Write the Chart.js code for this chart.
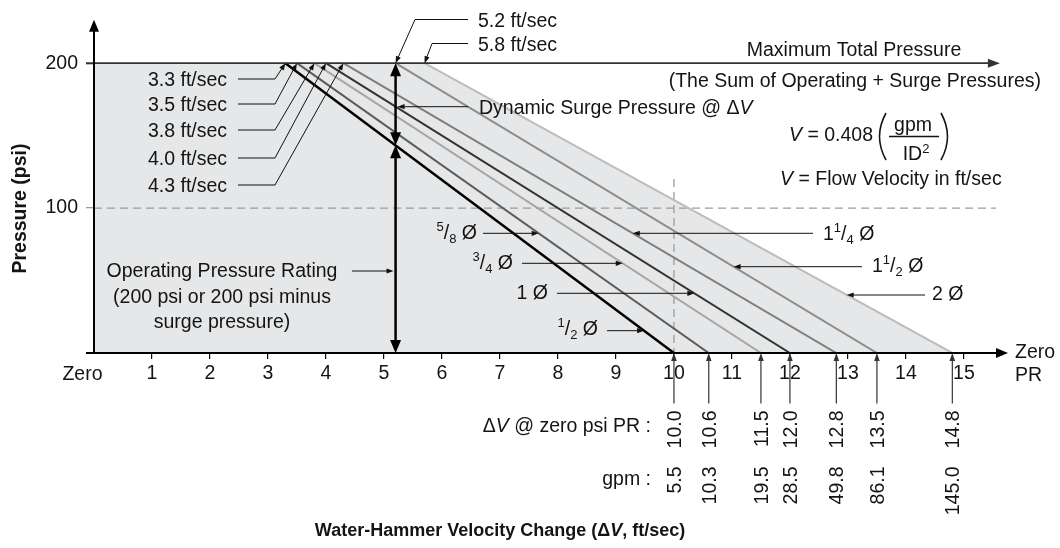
<!DOCTYPE html>
<html><head><meta charset="utf-8">
<script src="https://cdn.jsdelivr.net/npm/chart.js@4.4.1/dist/chart.umd.min.js"></script>
<style>html,body{margin:0;padding:0;background:#fff;}#wrap{width:1060px;height:548px;}</style>
</head><body><div id="wrap"><canvas id="c" width="1060" height="548"></canvas></div>
<script>
// ---------- data ----------
const pipeSizes = ['1/2', '5/8', '3/4', '1', '1 1/4', '1 1/2', '2'];
const startVelocity = [3.3, 3.5, 3.8, 4.0, 4.3, 5.2, 5.7];      // ft/sec where each line meets 200 psi
const startLabels = ['3.3 ft/sec', '3.5 ft/sec', '3.8 ft/sec', '4.0 ft/sec', '4.3 ft/sec', '5.2 ft/sec', '5.8 ft/sec'];
const zeroPsiVelocity = [10.0, 10.6, 11.5, 12.0, 12.8, 13.5, 14.8]; // ft/sec at zero psi PR
const zeroPsiLabels = ['10.0', '10.6', '11.5', '12.0', '12.8', '13.5', '14.8'];
const gpmLabels = ['5.5', '10.3', '19.5', '28.5', '49.8', '86.1', '145.0'];
const maxPressure = 200;
const xTickValues = [1, 2, 3, 4, 5, 6, 7, 8, 9, 10, 11, 12, 13, 14, 15];
const yTickValues = [100, 200];

// ---------- styles ----------
const lineColors = ['#000000', '#5c5c5c', '#a6a6a6', '#333333', '#7d7d7d', '#8c8c8c', '#bdbdbd'];
const lineWidths = [2.5, 2, 2, 2, 2, 2, 2];
const FONT = "'Liberation Sans', Arial, Helvetica, sans-serif";
const F = 19.5;
const TEXT = '#141414';

function fontStr(s){ return (s.style||'normal') + ' ' + (s.weight||'normal') + ' ' + (s.size||F) + 'px ' + FONT; }
function rich(ctx, x, y, segs, align, base){
  base = base || F;
  ctx.save(); ctx.fillStyle = TEXT; ctx.textBaseline = 'alphabetic'; ctx.textAlign = 'left';
  const ws = segs.map(s => { ctx.font = fontStr(s); return ctx.measureText(s.t).width + (s.dx||0); });
  const tot = ws.reduce((a,b)=>a+b, 0);
  let cx = align === 'center' ? x - tot/2 : (align === 'right' ? x - tot : x);
  const by = y + 0.36*base;
  segs.forEach((s,k) => { ctx.font = fontStr(s); ctx.fillText(s.t, cx + (s.dx||0), by + (s.dy||0)); cx += ws[k]; });
  ctx.restore();
}
function head(ctx, p1, p2, len, wid){
  const a = Math.atan2(p2[1]-p1[1], p2[0]-p1[0]);
  const c = Math.cos(a), s = Math.sin(a);
  ctx.beginPath();
  ctx.moveTo(p2[0], p2[1]);
  ctx.lineTo(p2[0]-len*c - wid*s, p2[1]-len*s + wid*c);
  ctx.lineTo(p2[0]-len*c + wid*s, p2[1]-len*s - wid*c);
  ctx.closePath(); ctx.fill();
}
function pull(p1, p2, d){
  const L = Math.hypot(p2[0]-p1[0], p2[1]-p1[1]) || 1;
  return [p2[0] - (p2[0]-p1[0])*d/L, p2[1] - (p2[1]-p1[1])*d/L];
}
function arrowPath(ctx, pts, o){
  o = o || {};
  const lw = o.lw || 1, color = o.color || '#111', len = o.len || 7, wid = o.wid || 2.6;
  const n = pts.length;
  const P = pts.map(p => p.slice());
  if (o.end !== false) P[n-1] = pull(pts[n-2], pts[n-1], len*0.6);
  if (o.start) P[0] = pull(pts[1], pts[0], len*0.6);
  ctx.save();
  ctx.strokeStyle = color; ctx.fillStyle = color; ctx.lineWidth = lw; ctx.setLineDash([]);
  ctx.beginPath(); ctx.moveTo(P[0][0], P[0][1]);
  for (let k = 1; k < n; k++) ctx.lineTo(P[k][0], P[k][1]);
  ctx.stroke();
  if (o.end !== false) head(ctx, pts[n-2], pts[n-1], len, wid);
  if (o.start) head(ctx, pts[1], pts[0], len, wid);
  ctx.restore();
}
function frac(n, d){ return [{t:n, size:13, dy:-8}, {t:'/', dx:0}, {t:d, size:13, dy:4}]; }

const datasets = pipeSizes.map((p, i) => ({
  label: p + '"',
  data: [{x: startVelocity[i], y: maxPressure}, {x: zeroPsiVelocity[i], y: 0}],
  borderColor: lineColors[i], borderWidth: lineWidths[i], pointRadius: 0, fill: false, order: i, tension: 0
}));
datasets.push({
  label: 'envelope',
  data: [{x: 0, y: maxPressure}, {x: startVelocity[6], y: maxPressure}, {x: zeroPsiVelocity[6], y: 0}],
  borderWidth: 0, borderColor: 'rgba(0,0,0,0)', backgroundColor: '#e6e7e8', fill: 'origin', pointRadius: 0, order: 20
});

function lineXAtPixelY(chart, i, py){
  const {x, y} = chart.scales;
  const psi = y.getValueForPixel(py);
  const v = startVelocity[i] + (maxPressure - psi)/maxPressure*(zeroPsiVelocity[i] - startVelocity[i]);
  return x.getPixelForValue(v);
}

const annot = {
  id: 'annot',
  beforeDatasetsDraw(chart){
    const {ctx, scales:{x, y}} = chart;
    ctx.save();
    ctx.strokeStyle = '#9c9c9c'; ctx.lineWidth = 1.3; ctx.setLineDash([8, 5]);
    ctx.beginPath(); ctx.moveTo(x.getPixelForValue(0), y.getPixelForValue(100)); ctx.lineTo(x.getPixelForValue(15.55), y.getPixelForValue(100)); ctx.stroke();
    ctx.beginPath(); ctx.moveTo(x.getPixelForValue(10), y.getPixelForValue(120)); ctx.lineTo(x.getPixelForValue(10), y.getPixelForValue(0)); ctx.stroke();
    ctx.restore();
  },
  afterDatasetsDraw(chart){
    const {ctx, chartArea, scales:{x, y}} = chart;
    const X0 = x.getPixelForValue(0), Y0 = y.getPixelForValue(0), Y200 = y.getPixelForValue(maxPressure);
    // max total pressure line
    arrowPath(ctx, [[X0-8, Y200], [x.getPixelForValue(15.62), Y200]], {lw:1.6, color:'#333', len:12, wid:4.5});
    // axes
    arrowPath(ctx, [[X0, Y0], [X0, chartArea.top]], {lw:2, color:'#000', len:12, wid:5});
    arrowPath(ctx, [[X0-8, Y0], [chartArea.right, Y0]], {lw:2, color:'#000', len:12, wid:5});

    // start-velocity leaders (left group)
    const ty = [79, 104, 130, 158, 185];
    for (let i = 0; i < 5; i++){
      rich(ctx, 148, ty[i], [{t:startLabels[i]}], 'left');
      arrowPath(ctx, [[238, ty[i]], [275, ty[i]], [x.getPixelForValue(startVelocity[i]), Y200]], {lw:1, color:'#111', len:7, wid:2.6});
    }
    // 5.2 and 5.8 leaders
    rich(ctx, 478, 19.5, [{t:startLabels[5]}], 'left');
    arrowPath(ctx, [[468, 19.5], [415, 19.5], [x.getPixelForValue(startVelocity[5]), Y200]], {lw:1, len:7, wid:2.6});
    rich(ctx, 478, 43.5, [{t:startLabels[6]}], 'left');
    arrowPath(ctx, [[468, 43.5], [432, 43.5], [x.getPixelForValue(startVelocity[6]), Y200]], {lw:1, len:7, wid:2.6});

    // vertical double arrows at 5.2 ft/sec
    const xv = x.getPixelForValue(startVelocity[5]);
    const psiInt = maxPressure*(zeroPsiVelocity[0] - startVelocity[5])/(zeroPsiVelocity[0] - startVelocity[0]);
    const yInt = y.getPixelForValue(psiInt);
    arrowPath(ctx, [[xv, Y200], [xv, yInt]], {lw:2.5, color:'#000', len:13, wid:5.5, start:true});
    arrowPath(ctx, [[xv, yInt], [xv, Y0]], {lw:2.5, color:'#000', len:13, wid:5.5, start:true});

    // Dynamic surge label
    rich(ctx, 479, 106.7, [{t:'Dynamic Surge Pressure @ \u0394'}, {t:'V', style:'italic'}], 'left');
    arrowPath(ctx, [[468, 106.7], [xv+2, 106.7]], {lw:1, len:7, wid:2.6});

    // Operating pressure rating
    rich(ctx, 222, 270, [{t:'Operating Pressure Rating'}], 'center');
    rich(ctx, 222, 295.5, [{t:'(200 psi or 200 psi minus'}], 'center');
    rich(ctx, 222, 321, [{t:'surge pressure)'}], 'center');
    arrowPath(ctx, [[352, 271], [xv-2, 271]], {lw:1, len:7, wid:2.6});

    // Maximum total pressure text
    rich(ctx, 854, 49, [{t:'Maximum Total Pressure'}], 'center');
    rich(ctx, 1041, 79.5, [{t:'(The Sum of Operating + Surge Pressures)'}], 'right');

    // formula
    rich(ctx, 789, 134, [{t:'V', style:'italic'}, {t:' = 0.408'}], 'left');
    ctx.save(); ctx.strokeStyle = '#141414'; ctx.lineWidth = 1.6;
    ctx.beginPath(); ctx.moveTo(886, 113); ctx.quadraticCurveTo(873, 136.5, 886, 160); ctx.stroke();
    ctx.beginPath(); ctx.moveTo(941, 113); ctx.quadraticCurveTo(954, 136.5, 941, 160); ctx.stroke();
    ctx.lineWidth = 1.3; ctx.beginPath(); ctx.moveTo(889, 136.5); ctx.lineTo(939, 136.5); ctx.stroke();
    ctx.restore();
    rich(ctx, 913, 124, [{t:'gpm'}], 'center');
    rich(ctx, 916, 153, [{t:'ID'}, {t:'2', size:13, dy:-7}], 'center');
    rich(ctx, 780, 178, [{t:'V', style:'italic'}, {t:' = Flow Velocity in ft/sec'}], 'left');

    // pipe size labels with arrows
    const left = [
      {i:1, r:477, ty:232, ay:233.3, ax:483, segs: frac('5','8').concat([{t:' \u00D8'}])},
      {i:2, r:513, ty:262, ay:263.3, ax:522, segs: frac('3','4').concat([{t:' \u00D8'}])},
      {i:3, r:548, ty:292, ay:293.3, ax:557, segs: [{t:'1 \u00D8'}]},
      {i:0, r:598, ty:328, ay:330.7, ax:607, segs: frac('1','2').concat([{t:' \u00D8'}])}
    ];
    left.forEach(L => {
      rich(ctx, L.r, L.ty, L.segs, 'right');
      arrowPath(ctx, [[L.ax, L.ay], [lineXAtPixelY(chart, L.i, L.ay), L.ay]], {lw:1, len:7, wid:2.6});
    });
    const right = [
      {i:4, l:823, ty:233, ay:233.3, ax:813, segs: [{t:'1'}].concat(frac('1','4')).concat([{t:' \u00D8'}])},
      {i:5, l:872, ty:265, ay:266.7, ax:862, segs: [{t:'1'}].concat(frac('1','2')).concat([{t:' \u00D8'}])},
      {i:6, l:932, ty:293, ay:295, ax:925, segs: [{t:'2 \u00D8'}]}
    ];
    right.forEach(R => {
      rich(ctx, R.l, R.ty, R.segs, 'left');
      arrowPath(ctx, [[R.ax, R.ay], [lineXAtPixelY(chart, R.i, R.ay), R.ay]], {lw:1, len:7, wid:2.6});
    });

    // bottom arrows and rotated values
    for (let i = 0; i < zeroPsiVelocity.length; i++){
      const px = x.getPixelForValue(zeroPsiVelocity[i]);
      arrowPath(ctx, [[px, 403.5], [px, Y0]], {lw:1.2, color:'#333', len:8, wid:2.8});
      ctx.save(); ctx.fillStyle = TEXT; ctx.font = fontStr({}); ctx.textAlign = 'right'; ctx.textBaseline = 'alphabetic';
      ctx.translate(px, 410.5); ctx.rotate(-Math.PI/2); ctx.fillText(zeroPsiLabels[i], 0, 0.36*F); ctx.restore();
      ctx.save(); ctx.fillStyle = TEXT; ctx.font = fontStr({}); ctx.textAlign = 'right'; ctx.textBaseline = 'alphabetic';
      ctx.translate(px, 466.5); ctx.rotate(-Math.PI/2); ctx.fillText(gpmLabels[i], 0, 0.36*F); ctx.restore();
    }
    rich(ctx, 651, 425, [{t:'\u0394'}, {t:'V', style:'italic'}, {t:' @ zero psi PR :'}], 'right');
    rich(ctx, 651, 477.5, [{t:'gpm :'}], 'right');

    // axis end labels
    rich(ctx, 82.5, 373, [{t:'Zero'}], 'center');
    rich(ctx, 1015, 351, [{t:'Zero'}], 'left');
    rich(ctx, 1015, 374, [{t:'PR'}], 'left');

    // axis titles
    rich(ctx, 500, 530, [{t:'Water-Hammer Velocity Change (\u0394', weight:'bold', size:18}, {t:'V', weight:'bold', style:'italic', size:18}, {t:', ft/sec)', weight:'bold', size:18}], 'center', 18);
    ctx.save(); ctx.translate(18.5, 208.5); ctx.rotate(-Math.PI/2);
    rich(ctx, 0, 0, [{t:'Pressure (psi)', weight:'bold', size:19.5}], 'center', 19.5);
    ctx.restore();
  }
};

new Chart(document.getElementById('c'), {
  type: 'line',
  data: { datasets },
  options: {
    responsive: false, animation: false, devicePixelRatio: 1,
    layout: { padding: { left: 0, top: 19.5, right: 52, bottom: 0 } },
    plugins: { legend: { display: false }, tooltip: { enabled: false }, filler: { drawTime: 'beforeDatasetsDraw' } },
    scales: {
      x: {
        type: 'linear', min: 0, max: 15.76,
        afterFit: s => { s.height = 195; },
        afterBuildTicks: s => { s.ticks = xTickValues.map(v => ({ value: v })); },
        grid: { drawOnChartArea: false, drawTicks: true, tickLength: 6, color: '#000', lineWidth: 1.2 },
        border: { display: false },
        ticks: { font: { family: FONT, size: F }, color: TEXT, padding: 3, maxRotation: 0, autoSkip: false, callback: v => String(v) }
      },
      y: {
        type: 'linear', min: 0, max: 230,
        afterFit: s => { s.width = 94; },
        afterBuildTicks: s => { s.ticks = yTickValues.map(v => ({ value: v })); },
        grid: { drawOnChartArea: false, drawTicks: true, tickLength: 8, lineWidth: 1.3, color: c => (c.tick && c.tick.value === 100) ? '#9c9c9c' : '#333' },
        border: { display: false },
        ticks: { font: { family: FONT, size: F }, color: TEXT, padding: 8, autoSkip: false, callback: v => String(v) }
      }
    }
  },
  plugins: [annot]
});
</script>
</body></html>
